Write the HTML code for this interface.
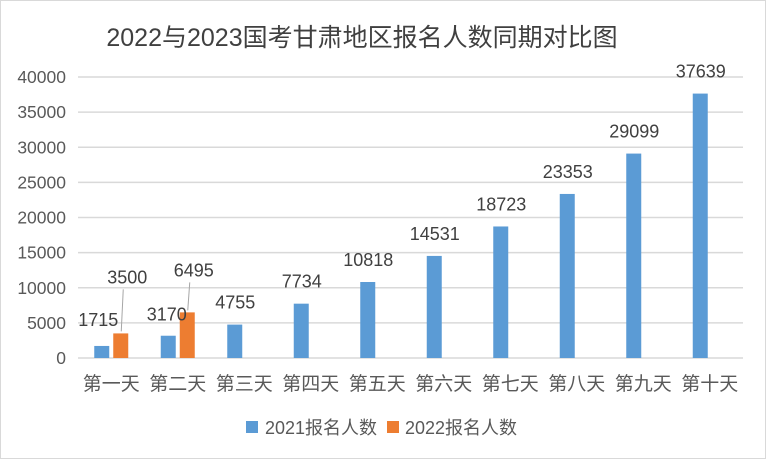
<!DOCTYPE html>
<html><head><meta charset="utf-8"><style>
body{margin:0;background:#fff;}
svg{display:block;font-family:"Liberation Sans","Noto Sans CJK SC",sans-serif;}
</style></head><body>
<svg id="chart" width="766" height="460">
<rect x="0.5" y="0.5" width="765" height="458" fill="#fff" stroke="#d9d9d9"/>
<text x="362" y="46" text-anchor="middle" font-size="25" fill="#404040">2022与2023国考甘肃地区报名人数同期对比图</text>
<g id="grid"></g><g id="bars"></g><g id="labels"></g>
<g>
<rect x="246" y="421" width="12" height="12" fill="#5b9bd5"/>
<text x="265" y="434" font-size="18" fill="#595959">2021报名人数</text>
<rect x="387" y="421" width="12" height="12" fill="#ed7d31"/>
<text x="405" y="434" font-size="18" fill="#595959">2022报名人数</text>
</g>
</svg>
<script>
const categories=["第一天","第二天","第三天","第四天","第五天","第六天","第七天","第八天","第九天","第十天"];
const series2021=[1715,3170,4755,7734,10818,14531,18723,23353,29099,37639];
const series2022=[3500,6495,null,null,null,null,null,null,null,null];
const yTicks=[0,5000,10000,15000,20000,25000,30000,35000,40000];
const NS="http://www.w3.org/2000/svg";
const x0=78,catW=66.5,y0=358,yMax=40000,yPx=281;
const y=v=>y0-v/yMax*yPx;
const cx=i=>x0+catW*(i+0.5);
function mk(tag,attrs,parent,txt){const e=document.createElementNS(NS,tag);for(const k in attrs)e.setAttribute(k,attrs[k]);if(txt!=null)e.textContent=txt;document.getElementById(parent).appendChild(e);return e;}
yTicks.forEach(t=>{
 const l=mk('line',{x1:x0,x2:x0+catW*10,y1:y(t),y2:y(t),stroke:'#d9d9d9','stroke-width':1.5},'grid');
 
 
 const tx=mk('text',{x:66,y:y(t)+6,'text-anchor':'end','font-size':17.5,fill:'#595959'},'grid',t);
 
 
});
categories.forEach((c,i)=>{
 const tx=mk('text',{x:cx(i),y:390,'text-anchor':'middle','font-size':19,fill:'#595959'},'grid',c);
 
 
 const v=series2021[i];
 const b=mk('rect',{x:cx(i)-17,y:y(v),width:15,height:y0-y(v),fill:'#5b9bd5'},'bars');
 
 
 let lx=cx(i)-9,ly=y(v)-16;
 if(i<2){lx=cx(i)-11-(i==0?2:0);ly=y(v)-(i==0?20:15);}
 const lb=mk('text',{x:lx,y:ly,'text-anchor':'middle','font-size':18,fill:'#404040'},'labels',v);
 
 
 const w=series2022[i];
 if(w!=null){
  const o=mk('rect',{x:cx(i)+2,y:y(w),width:15,height:y0-y(w),fill:'#ed7d31'},'bars');
  
  
  const ty=y(w)-(i==0?50:36);
  const ln=mk('line',{x1:cx(i)+10,y1:y(w)-2,x2:cx(i)+12,y2:ty+6,stroke:'#a6a6a6','stroke-width':1},'labels');
  
  
  const ol=mk('text',{x:cx(i)+16,y:ty,'text-anchor':'middle','font-size':18,fill:'#404040'},'labels',w);
  
  
 }
});
</script>
</body></html>
